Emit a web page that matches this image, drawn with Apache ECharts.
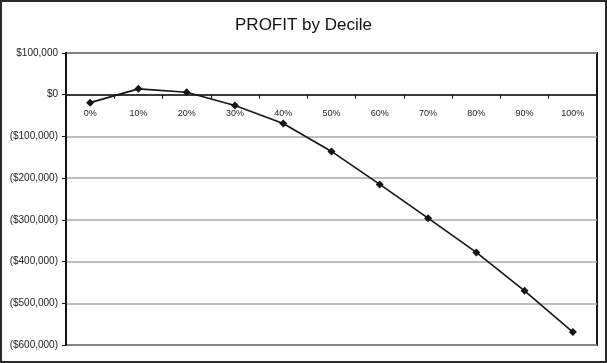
<!DOCTYPE html>
<html><head><meta charset="utf-8">
<script src="https://cdn.jsdelivr.net/npm/echarts@6/dist/echarts.min.js"></script>
<style>html,body{margin:0;padding:0;background:#fff}#c{width:607px;height:363px}</style>
</head><body><div id="c"></div>
<script>
const categories = ['0%','10%','20%','30%','40%','50%','60%','70%','80%','90%','100%'];
const profit = [-19000, 14000, 6000, -26000, -69000, -136000, -215000, -296000, -378000, -470000, -569000];
const yMin = -600000, yMax = 100000, yStep = 100000;

function fmt(v){
  const s = '$' + Math.abs(v).toLocaleString('en-US');
  return v < 0 ? '(' + s + ')' : s;
}
const gridTop = 53, gridBottom = 18, H = 363;
const plotH = H - gridTop - gridBottom;
const zeroOffset = -plotH * (0 - yMin) / (yMax - yMin);

const chart = echarts.init(document.getElementById('c'), null, {renderer:'canvas'});
chart.setOption({
  animation:false,
  backgroundColor:'#fff',
  title:{text:'PROFIT by Decile', left:'center', top:12,
    textStyle:{fontFamily:'Liberation Sans, Arial', fontSize:17, fontWeight:'normal', color:'#111'}},
  grid:{left:66, right:10, top:gridTop, bottom:gridBottom, show:true, borderColor:'#1a1a1a', borderWidth:2, backgroundColor:'#fff'},
  graphic:[{type:'rect', shape:{x:1, y:1, width:605, height:361}, style:{fill:'none', stroke:'#2a2a2a', lineWidth:2}, silent:true}],
  xAxis:{type:'category', data:categories, boundaryGap:true, position:'bottom', offset:zeroOffset,
    axisLine:{onZero:false, lineStyle:{color:'#111', width:1.5}},
    axisTick:{show:true, alignWithLabel:false, length:4, lineStyle:{color:'#111'}},
    axisLabel:{fontFamily:'Liberation Sans, Arial', fontSize:9, color:'#222', margin:14},
    splitLine:{show:false}},
  yAxis:{type:'value', min:yMin, max:yMax, interval:yStep,
    axisLine:{show:true, lineStyle:{color:'#111', width:2}},
    axisTick:{show:true, length:4, lineStyle:{color:'#111'}},
    axisLabel:{formatter:fmt, fontFamily:'Liberation Sans, Arial', fontSize:10, color:'#222', margin:8},
    splitLine:{show:true, lineStyle:{color:'#a8a8a8', width:1.5}}},
  series:[{type:'line', data:profit, symbol:'diamond', symbolSize:8,
    lineStyle:{color:'#151515', width:1.6}, itemStyle:{color:'#151515'}}]
});
</script></body></html>
